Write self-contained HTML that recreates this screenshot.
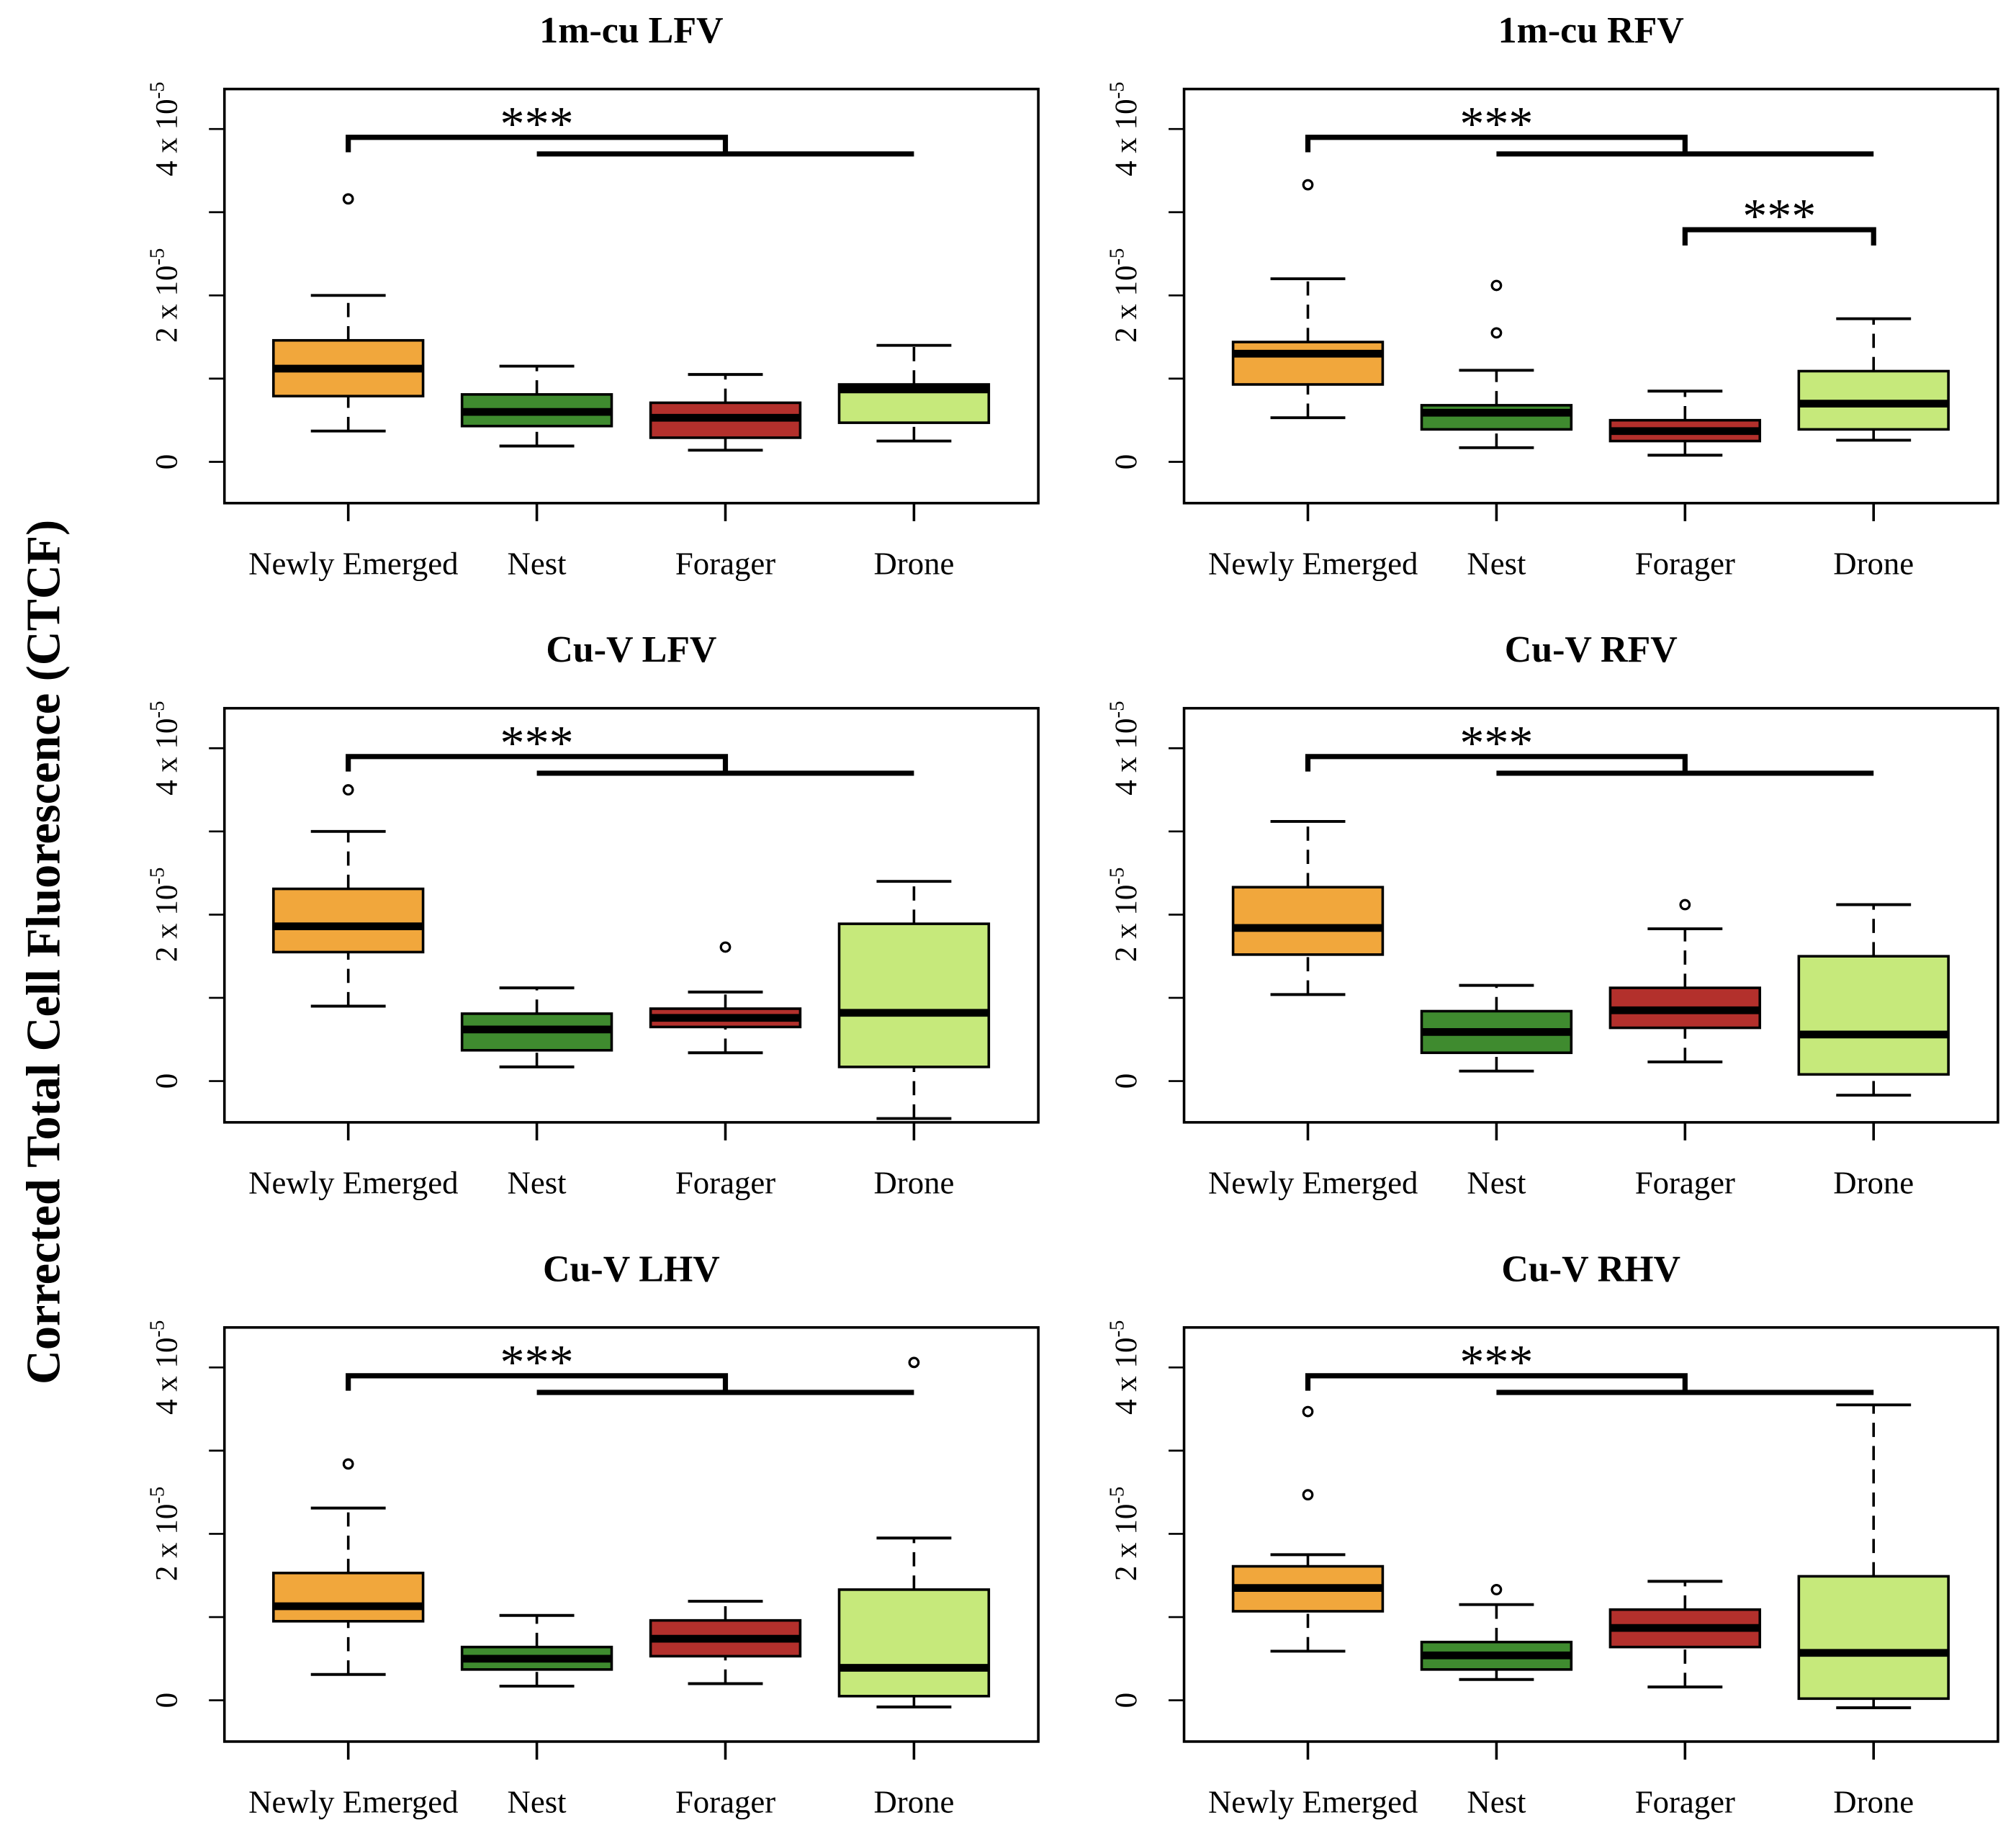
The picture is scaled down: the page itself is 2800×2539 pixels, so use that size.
<!DOCTYPE html>
<html><head><meta charset="utf-8"><style>
html,body{margin:0;padding:0;background:#fff}
svg{display:block}
text{font-family:"Liberation Serif",serif}
</style></head><body>
<svg id="chart" width="2800" height="2539" viewBox="0 0 1563 1417" preserveAspectRatio="none" xmlns="http://www.w3.org/2000/svg">
<text transform="translate(46,738) rotate(-90)" text-anchor="middle" font-size="37" font-weight="bold">Corrected Total Cell Fluorescence (CTCF)</text>
</svg>
<script>
const categories = ["Newly Emerged","Nest","Forager","Drone"];
const colors = ["#f1a73c","#3f8b2f","#b3302c","#c6e97b"];
const panelTitles = ["1m-cu LFV","1m-cu RFV","Cu-V LFV","Cu-V RFV","Cu-V LHV","Cu-V RHV"];
// values in units of 1e-5: [lo, q1, med, q3, hi]
const stats1 = [[0.37,0.79,1.12,1.46,2.0],[0.19,0.43,0.6,0.81,1.15],[0.14,0.29,0.53,0.71,1.05],[0.25,0.47,0.87,0.93,1.4]];
const stats2 = [[0.53,0.93,1.3,1.44,2.2],[0.17,0.39,0.59,0.68,1.1],[0.08,0.25,0.37,0.5,0.85],[0.26,0.39,0.7,1.09,1.72]];
const stats3 = [[0.9,1.55,1.86,2.31,3.0],[0.17,0.37,0.62,0.81,1.12],[0.34,0.65,0.76,0.87,1.07],[-0.45,0.17,0.82,1.89,2.4]];
const stats4 = [[1.04,1.52,1.84,2.33,3.12],[0.12,0.34,0.59,0.84,1.15],[0.23,0.64,0.85,1.12,1.83],[-0.17,0.08,0.56,1.5,2.12]];
const stats5 = [[0.31,0.95,1.13,1.53,2.31],[0.17,0.37,0.5,0.64,1.02],[0.2,0.53,0.74,0.96,1.19],[-0.08,0.05,0.39,1.33,1.95]];
const stats6 = [[0.59,1.07,1.35,1.61,1.75],[0.25,0.37,0.54,0.7,1.15],[0.16,0.64,0.87,1.09,1.43],[-0.09,0.02,0.57,1.49,3.55]];
const outliers1 = [[3.16],[],[],[]];
const outliers2 = [[3.33],[1.55,2.12],[],[]];
const outliers3 = [[3.5],[],[1.61],[]];
const outliers4 = [[],[],[2.12],[]];
const outliers5 = [[2.84],[],[],[4.06]];
const outliers6 = [[2.47,3.47],[1.33],[],[]];
const yTicks = [0,1,2,3,4];
const yTickLabels = ["0","","2 x 10","","4 x 10"];
const allStats=[stats1,stats2,stats3,stats4,stats5,stats6];
const allOut=[outliers1,outliers2,outliers3,outliers4,outliers5,outliers6];
const NS="http://www.w3.org/2000/svg";
const svg=document.getElementById('chart');
function mk(tag,attrs,parent){const e=document.createElementNS(NS,tag);for(const k in attrs)e.setAttribute(k,attrs[k]);(parent||svg).appendChild(e);return e;}
for(let p=0;p<6;p++){
  const col=p%2,row=Math.floor(p/2);
  const fx0=col?918:174, fx1=col?1549:805;
  const fy0=69+row*480, fy1=390+row*480;
  const y0=358+row*480, unit=64.5;
  const Y=v=>y0-v*unit;
  const X=i=>fx0+96+i*146.2;
  const g=mk('g',{});
  
  
  const t=mk('text',{x:(fx0+fx1)/2,y:fy0-36,'text-anchor':'middle','font-size':29,'font-weight':'bold'},g);
  t.textContent=panelTitles[p];
  
  
  const fr=mk('rect',{x:fx0,y:fy0,width:fx1-fx0,height:fy1-fy0,fill:'none',stroke:'#000','stroke-width':2},g);
  
  
  yTicks.forEach((v,i)=>{
    mk('line',{x1:fx0-12,x2:fx0,y1:Y(v),y2:Y(v),stroke:'#000','stroke-width':1.5},g);
    if(yTickLabels[i]){
      const lt=mk('text',{transform:`translate(${fx0-37},${Y(v)}) rotate(-90)`,'text-anchor':'middle','font-size':24},g);
      lt.textContent=yTickLabels[i];
      if(v>0){const s=mk('tspan',{'font-size':16,dy:-10},lt);s.textContent='-5';}
      
      
    }
  });
  const st=allStats[p];
  categories.forEach((c,i)=>{
    const x=X(i), s=st[i], hw=58;
    mk('line',{x1:x,x2:x,y1:fy1,y2:fy1+14,stroke:'#000','stroke-width':2},g);
    const xl=mk('text',{x:x+(i==0?4:0),y:fy1+55,'text-anchor':'middle','font-size':25},g);
    xl.textContent=c;
    
    
    const bg=mk('g',{},g);
    
    
    mk('line',{x1:x,x2:x,y1:Y(s[0]),y2:Y(s[1]),stroke:'#000','stroke-width':2,'stroke-dasharray':'11,7'},bg);
    mk('line',{x1:x,x2:x,y1:Y(s[3]),y2:Y(s[4]),stroke:'#000','stroke-width':2,'stroke-dasharray':'11,7'},bg);
    mk('line',{x1:x-29,x2:x+29,y1:Y(s[0]),y2:Y(s[0]),stroke:'#000','stroke-width':2.2},bg);
    mk('line',{x1:x-29,x2:x+29,y1:Y(s[4]),y2:Y(s[4]),stroke:'#000','stroke-width':2.2},bg);
    mk('rect',{x:x-hw,y:Y(s[3]),width:2*hw,height:Y(s[1])-Y(s[3]),fill:colors[i],stroke:'#000','stroke-width':2},bg);
    mk('line',{x1:x-hw,x2:x+hw,y1:Y(s[2]),y2:Y(s[2]),stroke:'#000','stroke-width':6},bg);
    allOut[p][i].forEach(v=>{
      const o=mk('circle',{cx:x,cy:Y(v),r:3.5,fill:'none',stroke:'#000','stroke-width':1.8},bg);
      
      
    });
  });
  const br=mk('g',{fill:'none',stroke:'#000','stroke-width':4},g);
  
  
  mk('path',{d:`M${X(0)},${Y(3.72)} V${Y(3.9)} H${X(2)} V${Y(3.7)}`},br);
  mk('path',{d:`M${X(1)},${Y(3.7)} H${X(3)}`},br);
  const sl=mk('text',{x:X(1),y:Y(3.9)+2,'text-anchor':'middle','font-size':38,'font-family':'Liberation Sans'},g);
  sl.textContent='***';
  
  
  if(p==1){
    mk('path',{d:`M${X(2)},${Y(2.6)} V${Y(2.79)} H${X(3)} V${Y(2.6)}`},br);
    const s2=mk('text',{x:(X(2)+X(3))/2,y:Y(2.79)+2,'text-anchor':'middle','font-size':38,'font-family':'Liberation Sans'},g);
    s2.textContent='***';
    
    
  }
}
</script>
</body></html>
